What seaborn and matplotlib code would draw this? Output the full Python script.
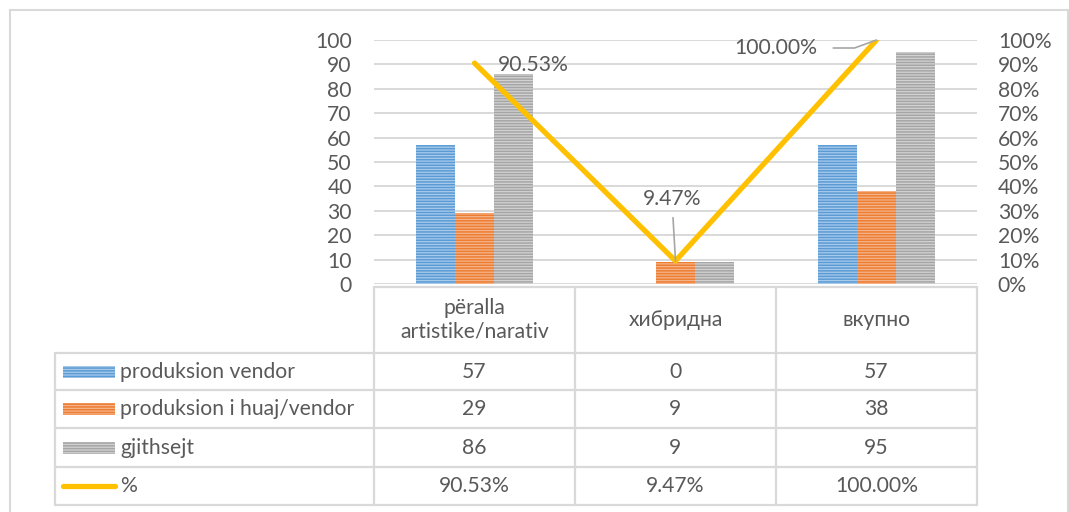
import numpy as np
import pandas as pd
import matplotlib
matplotlib.use("Agg")
import matplotlib.pyplot as plt
import seaborn as sns

# --- data -------------------------------------------------------------
categories = ["përalla\nartistike/narativ", "хибридна", "вкупно"]
series_names = ["produksion vendor", "produksion i huaj/vendor", "gjithsejt"]
domestic = [57, 0, 57]
foreign_domestic = [29, 9, 38]
total = [86, 9, 95]
share_pct = [90.53, 9.47, 100.00]
share_name = "%"

left_ticks = list(range(0, 101, 10))
right_ticks = [v / 100 for v in range(0, 101, 10)]

# --- styling ----------------------------------------------------------
sns.set_theme(style="white")
plt.rcParams["font.family"] = ["Lato", "DejaVu Sans"]
plt.rcParams["hatch.linewidth"] = 1.1

TXT = "#595959"
GRID = "#D9D9D9"
dark = ["#5B9BD5", "#ED7D31", "#A5A5A5"]
light = ["#A9CBEB", "#F5B48C", "#D2D2D2"]
LINE = "#FFC000"
FS = 15.2

W, H = 1069, 512
fig = plt.figure(figsize=(W / 100, H / 100), dpi=100)


def fx(px):
    return px / W


def fy(py):
    return 1 - py / H


ax = fig.add_axes([fx(374), fy(284), fx(977) - fx(374), fy(40) - fy(284)])

values = [domestic, foreign_domestic, total]
df = pd.DataFrame({
    "category": categories * 3,
    "series": np.repeat(series_names, len(categories)),
    "value": np.concatenate(values),
})

sns.barplot(data=df, x="category", y="value", hue="series",
            hue_order=series_names, order=categories, palette=dark,
            width=0.58, gap=0, legend=False, ax=ax, zorder=2)

for cont, d, l in zip(ax.containers, dark, light):
    for bar in cont:
        bar.set_facecolor(l)
        bar.set_edgecolor(d)
        bar.set_linewidth(0)
        bar.set_hatch("------")

ax.set_xlim(-0.5, len(categories) - 0.5)
ax.set_ylim(0, 100)
ax.set_yticks(left_ticks)
ax.yaxis.grid(True, color=GRID, linewidth=1.4, zorder=0)
ax.set_axisbelow(True)
ax.set_xticks([])
ax.set_xlabel("")
ax.set_ylabel("")
for s in ax.spines.values():
    s.set_visible(False)
ax.tick_params(axis="y", length=0, pad=16, labelsize=FS, labelcolor=TXT)

# percentage line on the secondary axis
ax2 = ax.twinx()
xpos = np.arange(len(categories))
sns.lineplot(x=xpos, y=np.array(share_pct) / 100, ax=ax2, color=LINE,
             linewidth=3.8, solid_capstyle="round", solid_joinstyle="round",
             zorder=5)
ax2.set_ylim(0, 1)
ax2.set_yticks(right_ticks)
ax2.set_yticklabels([f"{int(round(t * 100))}%" for t in right_ticks])
ax2.set_xlim(-0.5, len(categories) - 0.5)
ax2.set_xticks([])
ax2.set_ylabel("")
for s in ax2.spines.values():
    s.set_visible(False)
ax2.tick_params(axis="y", length=0, pad=15, labelsize=FS, labelcolor=TXT)
ax2.grid(False)

# data labels with leader lines
lead = dict(arrowstyle="-", color="#A6A6A6", linewidth=1.2, shrinkA=2, shrinkB=0)
ax2.annotate(f"{share_pct[0]:.2f}%", xy=(xpos[0], share_pct[0] / 100),
             xytext=(23, -2), textcoords="offset pixels", ha="left",
             va="center", fontsize=FS, color=TXT, zorder=6)
ax2.annotate(f"{share_pct[1]:.2f}%", xy=(xpos[1], share_pct[1] / 100),
             xytext=(-3, 62), textcoords="offset pixels", ha="center",
             va="center", fontsize=FS, color=TXT, zorder=6,
             arrowprops=dict(lead, relpos=(0.5, 0.0), shrinkA=4))
ax2.annotate(f"{share_pct[2]:.2f}%", xy=(xpos[2], share_pct[2] / 100),
             xytext=(-59, -8), textcoords="offset pixels", ha="right",
             va="center", fontsize=FS, color=TXT, zorder=6,
             arrowprops=dict(lead, relpos=(1.0, 0.5), shrinkA=9,
                             connectionstyle="angle,angleA=0,angleB=20,rad=0"))

# --- data table drawn in pixel space ------------------------------------
tab = fig.add_axes([0, 0, 1, 1], facecolor="none")
tab.set_xlim(0, W)
tab.set_ylim(H, 0)
tab.axis("off")

# outer chart frame
tab.plot([10, 10, 1068, 1068], [520, 10, 10, 520], color=GRID, lw=1.5,
         solid_joinstyle="miter")

col_x = [55, 374, 575, 776, 977]
row_y = [287, 353, 390, 428, 467, 505]
lw = 1.6
tab.plot([col_x[1], col_x[-1]], [row_y[0], row_y[0]], color=GRID, lw=lw)
for y in row_y[1:]:
    tab.plot([col_x[0], col_x[-1]], [y, y], color=GRID, lw=lw)
tab.plot([col_x[0], col_x[0]], [row_y[1], row_y[-1]], color=GRID, lw=lw)
for x in col_x[1:]:
    tab.plot([x, x], [row_y[0], row_y[-1]], color=GRID, lw=lw)

centers = [(col_x[i + 1] + col_x[i + 2]) / 2 for i in range(len(categories))]
head_mid = (row_y[0] + row_y[1]) / 2
for cx, cat in zip(centers, categories):
    tab.text(cx, head_mid, cat, ha="center", va="center", fontsize=FS,
             color=TXT, linespacing=1.2)

row_labels = series_names + [share_name]
row_values = [[str(v) for v in domestic],
              [str(v) for v in foreign_domestic],
              [str(v) for v in total],
              [f"{v:.2f}%" for v in share_pct]]
for r, (lab, vals) in enumerate(zip(row_labels, row_values)):
    ymid = (row_y[r + 1] + row_y[r + 2]) / 2
    if r < 3:
        tab.add_patch(plt.Rectangle((63, ymid - 6), 52, 12, facecolor=light[r],
                                    edgecolor=dark[r], linewidth=0,
                                    hatch="------"))
    else:
        tab.plot([63, 115], [ymid, ymid], color=LINE, lw=3.8,
                 solid_capstyle="round")
    tab.text(120, ymid, lab, ha="left", va="center", fontsize=FS, color=TXT)
    for cx, v in zip(centers, vals):
        tab.text(cx, ymid, v, ha="center", va="center", fontsize=FS, color=TXT)

fig.savefig("out.png", dpi=100, facecolor="white")
